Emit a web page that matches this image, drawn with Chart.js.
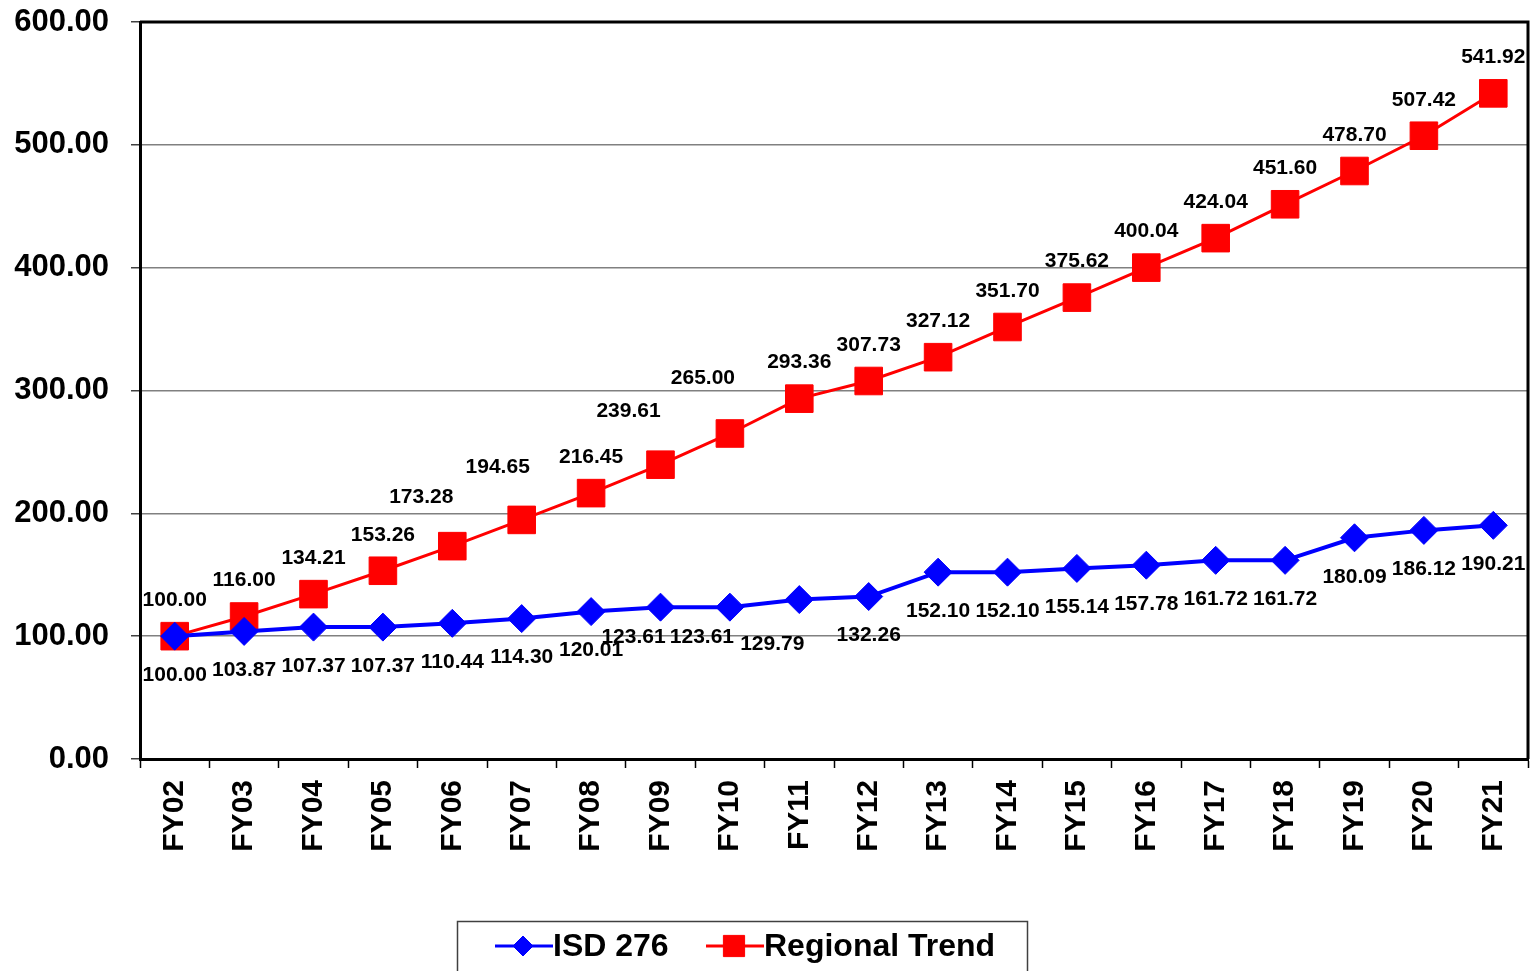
<!DOCTYPE html>
<html>
<head>
<meta charset="utf-8">
<script src="https://cdn.jsdelivr.net/npm/chart.js@4.4.0/dist/chart.umd.min.js"></script>
<style>
  html, body { margin: 0; padding: 0; background: #ffffff; }
  #wrap { width: 1533px; height: 971px; position: relative; overflow: hidden; }
  canvas { display: block; }
</style>
</head>
<body>
<div id="wrap"><canvas id="chart" width="1533" height="971"></canvas></div>
<script>
// Fiscal years on the category axis
const fiscalYears = ['FY02', 'FY03', 'FY04', 'FY05', 'FY06', 'FY07', 'FY08', 'FY09', 'FY10', 'FY11',
                     'FY12', 'FY13', 'FY14', 'FY15', 'FY16', 'FY17', 'FY18', 'FY19', 'FY20', 'FY21'];

// Index values (FY02 = 100)
const isd276 = [100.00, 103.87, 107.37, 107.37, 110.44, 114.30, 120.01, 123.61, 123.61, 129.79,
                132.26, 152.10, 152.10, 155.14, 157.78, 161.72, 161.72, 180.09, 186.12, 190.21];
const regionalTrend = [100.00, 116.00, 134.21, 153.26, 173.28, 194.65, 216.45, 239.61, 265.00, 293.36,
                       307.73, 327.12, 351.70, 375.62, 400.04, 424.04, 451.60, 478.70, 507.42, 541.92];

// Value axis ticks
const yTickValues = [0, 100, 200, 300, 400, 500, 600];

const FONT = '"Liberation Sans", Arial, Helvetica, sans-serif';

// Label placement: default offset from the point, plus a few hand-nudged labels
const isdLabelPlacement = { base: [0, 39], nudge: { 7: [-27, 30], 8: [-28, 30], 9: [-27, 45] } };
const regionalLabelPlacement = { base: [0, -36], nudge: { 4: [-31, -49], 5: [-24, -53], 7: [-32, -53], 8: [-27, -55] } };

// Draws each point's value next to it
const valueLabels = {
  id: 'valueLabels',
  afterDatasetsDraw(chart) {
    const ctx = chart.ctx;
    ctx.save();
    ctx.font = 'bold 21px ' + FONT;
    ctx.fillStyle = '#000000';
    ctx.textAlign = 'center';
    ctx.textBaseline = 'middle';
    chart.data.datasets.forEach((ds, di) => {
      const meta = chart.getDatasetMeta(di);
      const place = ds.labelPlacement;
      meta.data.forEach((pt, i) => {
        const off = place.nudge[i] || place.base;
        ctx.fillText(ds.data[i].toFixed(2), pt.x + off[0], pt.y + off[1]);
      });
    });
    ctx.restore();
  }
};

// Black frame around the plot area (top and right edges; left/bottom come from axis borders)
const plotFrame = {
  id: 'plotFrame',
  beforeDatasetsDraw(chart) {
    const { ctx, chartArea: a } = chart;
    ctx.save();
    ctx.strokeStyle = '#000000';
    ctx.lineWidth = 3;
    ctx.beginPath();
    ctx.moveTo(a.left, a.top);
    ctx.lineTo(a.right, a.top);
    ctx.lineTo(a.right, a.bottom);
    ctx.stroke();
    ctx.restore();
  }
};

// Boxed legend below the chart
const boxedLegend = {
  id: 'boxedLegend',
  afterDraw(chart) {
    const ctx = chart.ctx;
    ctx.save();
    ctx.strokeStyle = '#404040';
    ctx.lineWidth = 1.5;
    ctx.strokeRect(457.5, 921.5, 570, 70);
    const startX = [495, 706];
    ctx.font = 'bold 32px ' + FONT;
    ctx.textBaseline = 'middle';
    ctx.textAlign = 'left';
    const cy = 946;
    chart.data.datasets.forEach((ds, di) => {
      const x0 = startX[di];
      ctx.strokeStyle = ds.borderColor;
      ctx.lineWidth = 3;
      ctx.beginPath();
      ctx.moveTo(x0, cy);
      ctx.lineTo(x0 + 58, cy);
      ctx.stroke();
      ctx.fillStyle = ds.pointBackgroundColor;
      ctx.strokeStyle = ds.pointBorderColor;
      ctx.lineWidth = 1;
      Chart.helpers.drawPoint(ctx, { pointStyle: ds.pointStyle, rotation: 0, borderWidth: 1, radius: ds.legendRadius }, x0 + 28, cy);
      ctx.fillStyle = '#000000';
      ctx.fillText(ds.label, x0 + 58, cy + 1);
    });
    ctx.restore();
  }
};

new Chart(document.getElementById('chart'), {
  type: 'line',
  data: {
    labels: fiscalYears,
    datasets: [
      {
        label: 'ISD 276',
        data: isd276,
        borderColor: '#0000FF',
        backgroundColor: '#0000FF',
        borderWidth: 4,
        pointStyle: 'rectRot',
        pointRadius: 14,
        pointBackgroundColor: '#0000FF',
        pointBorderColor: '#0000FF',
        pointBorderWidth: 1,
        tension: 0,
        labelPlacement: isdLabelPlacement,
        legendRadius: 10
      },
      {
        label: 'Regional Trend',
        data: regionalTrend,
        borderColor: '#FF0000',
        backgroundColor: '#FF0000',
        borderWidth: 3,
        pointStyle: 'rect',
        pointRadius: 19.5,
        pointBackgroundColor: '#FF0000',
        pointBorderColor: '#FF0000',
        pointBorderWidth: 1,
        tension: 0,
        labelPlacement: regionalLabelPlacement,
        legendRadius: 15
      }
    ]
  },
  options: {
    responsive: false,
    animation: false,
    devicePixelRatio: 1,
    layout: { autoPadding: false, padding: { top: 22, right: 5, left: 0, bottom: 0 } },
    plugins: {
      legend: { display: false },
      tooltip: { enabled: false }
    },
    scales: {
      x: {
        offset: true,
        grid: { offset: true, drawOnChartArea: false, drawTicks: true, tickLength: 9, tickColor: '#000000', tickWidth: 1.5 },
        border: { display: true, color: '#000000', width: 3 },
        ticks: {
          autoSkip: false,
          minRotation: 90,
          maxRotation: 90,
          padding: 12,
          color: '#000000',
          font: { family: FONT, size: 30, weight: 'bold' }
        },
        afterFit(scale) {
          scale.height = 212;
          scale.paddingLeft = 0;
          scale.paddingRight = 0;
        }
      },
      y: {
        min: 0,
        max: 600,
        afterBuildTicks(scale) { scale.ticks = yTickValues.map(v => ({ value: v })); },
        grid: { color: '#808080', lineWidth: 1.5, tickLength: 9, tickColor: '#404040', tickWidth: 1.5 },
        border: { display: true, color: '#000000', width: 3 },
        ticks: {
          padding: 22,
          color: '#000000',
          font: { family: FONT, size: 31, weight: 'bold' },
          callback: (v) => Number(v).toFixed(2)
        },
        afterFit(scale) {
          scale.width = 140;
          scale.paddingTop = 0;
          scale.paddingBottom = 0;
        }
      }
    }
  },
  plugins: [plotFrame, valueLabels, boxedLegend]
});
</script>
</body>
</html>
